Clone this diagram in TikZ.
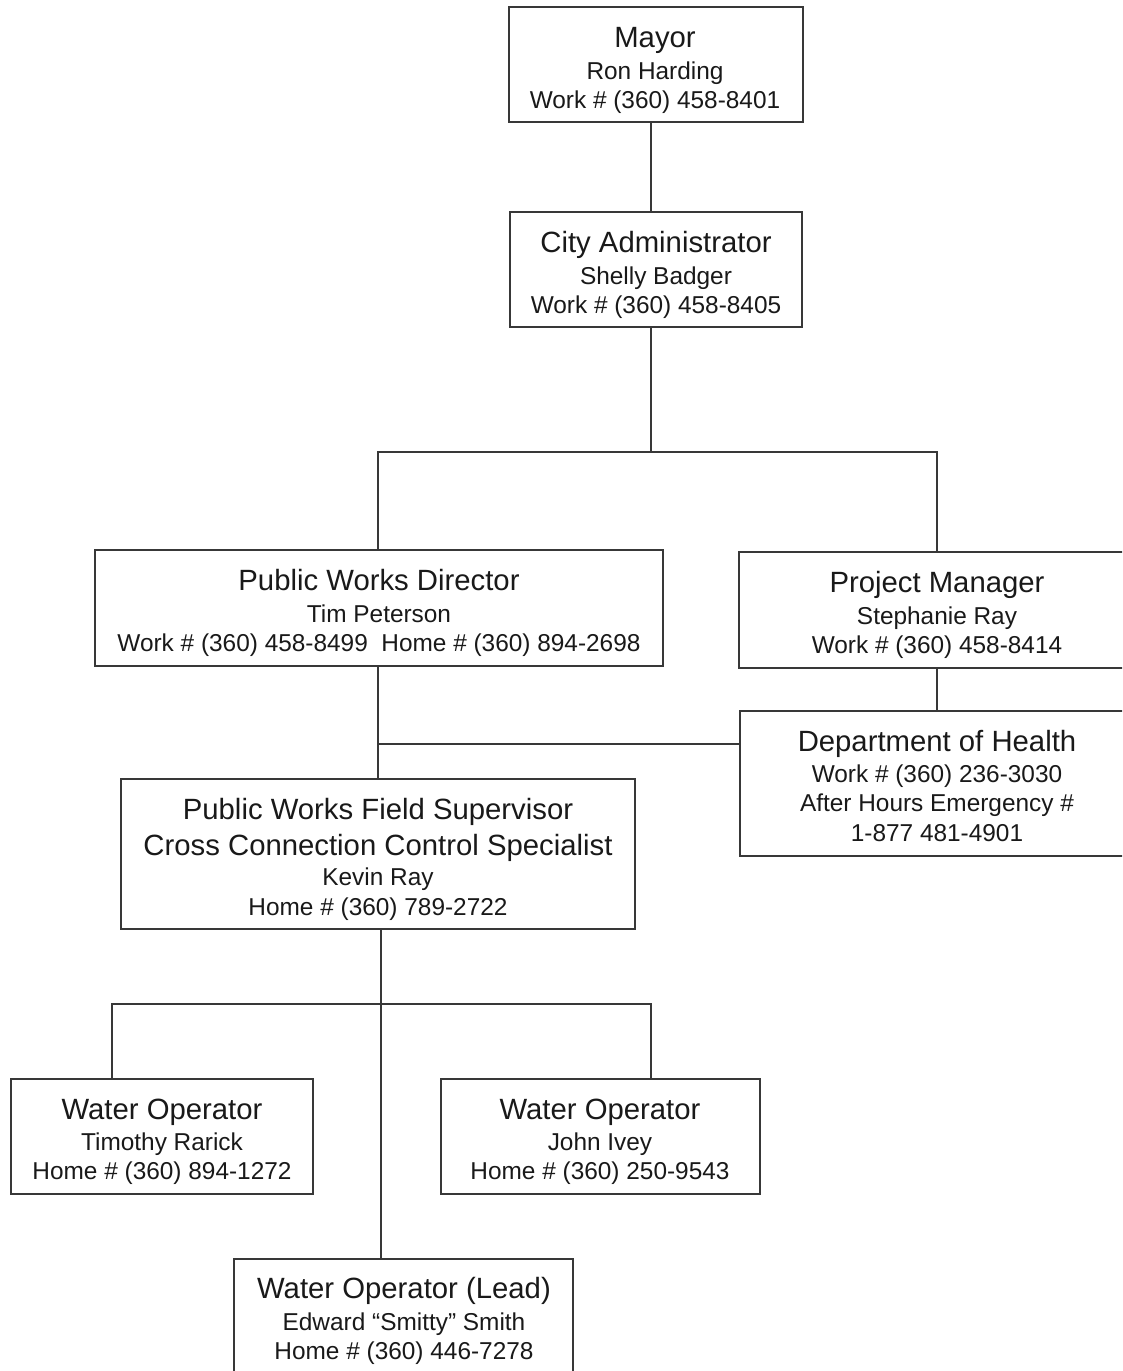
\documentclass[tikz,border=0pt]{standalone}
\usepackage{fontspec}
\setmainfont{Liberation Sans}
\begin{document}
\begin{tikzpicture}[x=1pt,y=1pt,
  box/.style={draw=black!78, line width=1.7pt, fill=white, inner sep=0pt, outer sep=0pt, anchor=north west},
  conn/.style={draw=black!78, line width=1.7pt},
  ttl/.style={anchor=base, inner sep=0pt, font=\fontsize{29.3}{34}\selectfont, text=black!90},
  bdy/.style={anchor=base, inner sep=0pt, font=\fontsize{24.4}{29}\selectfont, text=black!90}]
\useasboundingbox (0,0) rectangle (1122,-1371);
\fill[white] (0,0) rectangle (1122,-1371);
\clip (0,0) rectangle (1122,-1371);

% boxes
\node[box, minimum width=294, minimum height=115] (mayor) at (509,-7) {};
\node[box, minimum width=292, minimum height=115] (city) at (510,-212) {};
\node[box, minimum width=568, minimum height=116] (pwd) at (95,-550) {};
\node[box, minimum width=420, minimum height=116] (pm) at (739,-552) {};
\node[box, minimum width=420, minimum height=145] (doh) at (740,-711) {};
\node[box, minimum width=514, minimum height=150] (pwfs) at (121,-779) {};
\node[box, minimum width=302, minimum height=115] (wo1) at (11,-1079) {};
\node[box, minimum width=319, minimum height=115] (wo2) at (441,-1079) {};
\node[box, minimum width=339, minimum height=160] (lead) at (234,-1259) {};

% texts
\node[ttl] at (655,-47.5) {Mayor};
\node[bdy] at (655,-79) {Ron Harding};
\node[bdy] at (655,-108) {Work \# (360) 458-8401};

\node[ttl] at (656,-252.5) {City Administrator};
\node[bdy] at (656,-284) {Shelly Badger};
\node[bdy] at (656,-313) {Work \# (360) 458-8405};

\node[ttl] at (379,-590.5) {Public Works Director};
\node[bdy] at (379,-622) {Tim Peterson};
\node[bdy] at (379,-651) {Work \# (360) 458-8499\ \ Home \# (360) 894-2698};

\node[ttl] at (937,-592.5) {Project Manager};
\node[bdy] at (937,-624) {Stephanie Ray};
\node[bdy] at (937,-653) {Work \# (360) 458-8414};

\node[ttl] at (937,-751.5) {Department of Health};
\node[bdy] at (937,-782) {Work \# (360) 236-3030};
\node[bdy] at (937,-811.5) {After Hours Emergency \#};
\node[bdy] at (937,-841) {1-877 481-4901};

\node[ttl] at (378,-819) {Public Works Field Supervisor};
\node[ttl] at (378,-855) {Cross Connection Control Specialist};
\node[bdy] at (378,-885.5) {Kevin Ray};
\node[bdy] at (378,-915) {Home \# (360) 789-2722};

\node[ttl] at (162,-1119.5) {Water Operator};
\node[bdy] at (162,-1150) {Timothy Rarick};
\node[bdy] at (162,-1179.5) {Home \# (360) 894-1272};

\node[ttl] at (600,-1119.5) {Water Operator};
\node[bdy] at (600,-1150) {John Ivey};
\node[bdy] at (600,-1179.5) {Home \# (360) 250-9543};

\node[ttl] at (404,-1298.5) {Water Operator (Lead)};
\node[bdy] at (404,-1330) {Edward “Smitty” Smith};
\node[bdy] at (404,-1359) {Home \# (360) 446-7278};

% connectors
\coordinate (jTop) at (651,-452);
\coordinate (jL) at (378,-452);
\coordinate (jR) at (937,-452);
\coordinate (jM) at (378,-744);
\coordinate (jS) at (381,-1004);
\coordinate (jW1) at (112,-1004);
\coordinate (jW2) at (651,-1004);

\draw[conn] (jTop |- mayor.south) -- (jTop |- city.north);
\draw[conn] (jTop |- city.south) -- (jTop);
\draw[conn] (jL |- pwd.north) -- (jL) -- (jR) -- (jR |- pm.north);
\draw[conn] (jR |- pm.south) -- (jR |- doh.north);
\draw[conn] (jM |- pwd.south) -- (jM |- pwfs.north);
\draw[conn] (jM) -- (jM -| doh.west);
\draw[conn] (jS |- pwfs.south) -- (jS |- lead.north);
\draw[conn] (jW1 |- wo1.north) -- (jW1) -- (jW2) -- (jW2 |- wo2.north);
\end{tikzpicture}
\end{document}
